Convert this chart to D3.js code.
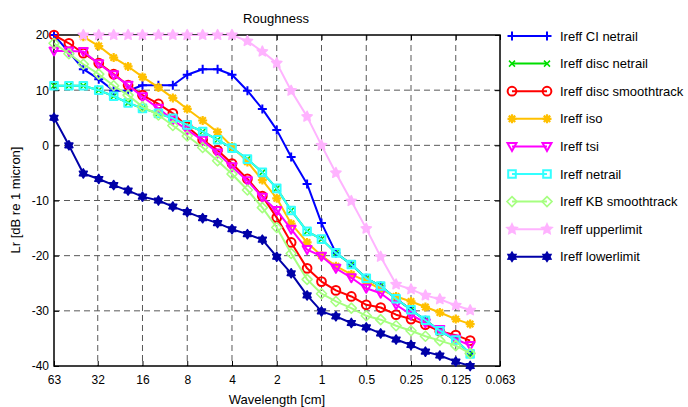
<!DOCTYPE html>
<html>
<head>
<meta charset="utf-8">
<script src="https://cdn.jsdelivr.net/npm/d3@7"></script>
<style>
  html, body { margin: 0; padding: 0; background: #fff; }
  svg { display: block; font-family: Arial, "Liberation Sans", Helvetica, sans-serif; }
</style>
</head>
<body>
<svg id="chart" width="688" height="407"></svg>
<script>
// Third-octave band centre wavelengths [cm]
const wavelengths = [63, 50, 40, 31.5, 25, 20, 16, 12.5, 10, 8, 6.3, 5, 4, 3.15, 2.5, 2, 1.6,
  1.25, 1, 0.8, 0.63, 0.5, 0.4, 0.315, 0.25, 0.2, 0.16, 0.125, 0.1];

const xTicks = [63, 32, 16, 8, 4, 2, 1, 0.5, 0.25, 0.125, 0.063];
const yTicks = [20, 10, 0, -10, -20, -30, -40];

// Roughness levels Lr [dB re 1 micron] per band, listed from 63 cm down to 0.1 cm
const ciNetrail = [20, 16.9, 13.8, 12.0, 9.9, 9.9, 10.9, 10.9, 10.9, 12.8, 13.8, 13.8, 12.8, 9.9,
  6.6, 2.8, -2.1, -7.0, -14.1, -19.5, -21.6, -24.1, -25.5, -27.8, -29.8, -31.7, -33.6, -35.3, -37.8];
const discNetrail = [10.8, 10.8, 10.8, 10.0, 8.9, 7.7, 6.7, 5.8, 4.9, 3.7, 2.5, 1.0, -0.5, -2.5, -4.9,
  -7.8, -11.8, -15.6, -17.0, -19.5, -21.6, -24.1, -25.5, -27.8, -29.8, -31.7, -33.6, -35.3, -37.8];
const discSmoothtrack = [20, 18.5, 16.7, 14.9, 12.9, 10.9, 9.1, 7.5, 5.8, 3.4, 1.0, -0.9, -3.3, -6.1,
  -9.2, -13.1, -17.6, -22.3, -24.7, -26.3, -27.4, -28.9, -29.4, -30.7, -31.5, -32.5, -33.7, -34.4, -35.4];
const iso = [null, null, 19.7, 18.0, 15.9, 14.3, 12.4, 10.5, 8.6, 6.6, 4.5, 2.4, -0.2, -3.0, -6.3,
  -9.6, -14.2, -17.6, -20.0, -21.9, -23.4, -24.6, -26.1, -27.4, -28.3, -29.3, -30.3, -31.5, -32.4];
const tsi = [17.1, 17.1, 17.0, 14.8, 12.8, 10.9, 8.8, 6.7, 4.6, 2.8, 0.9, -1.4, -3.9, -6.4, -9.4,
  -11.8, -15.2, -18.9, -20.1, -22.3, -24.0, -25.9, -26.8, -28.9, -30.7, -32.2, -33.4, -35.1, -36.3];
const netrail = [10.8, 10.8, 10.8, 10.0, 8.9, 7.7, 6.7, 5.8, 4.9, 3.7, 2.5, 1.0, -0.5, -2.5, -4.9,
  -7.8, -11.8, -15.6, -17.0, -19.5, -21.6, -24.1, -25.5, -27.8, -29.8, -31.7, -33.6, -35.3, -37.8];
const kbSmoothtrack = [18.5, 16.6, 14.7, 12.9, 10.8, 9.1, 7.0, 5.5, 3.6, 1.7, -0.4, -2.8, -5.2, -8.1,
  -11.3, -14.9, -19.6, -24.3, -26.9, -28.3, -29.5, -30.9, -31.6, -32.7, -33.6, -34.6, -35.4, -36.3, -37.7];
const upperLimit = [null, null, 20, 20, 20, 20, 20, 20, 20, 20, 20, 20, 20, 18.9, 17.0, 14.9, 9.9,
  5.2, 0, -5.0, -10.1, -15.1, -20.2, -25.2, -26.1, -27.2, -27.9, -29.0, -29.9];
const lowerLimit = [5.0, 0, -5.1, -6.1, -7.2, -8.2, -9.3, -10.0, -11.1, -12.1, -13.2, -14.1, -15.2,
  -16.1, -17.1, -20.2, -23.2, -27.2, -30.1, -31.0, -32.2, -33.0, -34.1, -35.2, -36.2, -37.4, -38.1, -39.2, -40.0];

const seriesNames = ["Ireff CI netrail", "Ireff disc netrail", "Ireff disc smoothtrack", "Ireff iso",
  "Ireff tsi", "Ireff netrail", "Ireff KB smoothtrack", "Ireff upperlimit", "Ireff lowerlimit"];
const seriesValues = [ciNetrail, discNetrail, discSmoothtrack, iso, tsi, netrail, kbSmoothtrack, upperLimit, lowerLimit];
const seriesColors = ["#0000ff", "#00dd00", "#ff0000", "#ffc000", "#ff00ff", "#33ffff", "#a6ff80", "#ffb3ff", "#0000a8"];
const seriesMarkers = ["plus", "x", "circle", "asterisk", "triangleDown", "square", "diamond", "pentagram", "hexagram"];

const svg = d3.select("#chart");
const frame = { left: 54, right: 500, top: 35, bottom: 366 };

const x = d3.scaleLog().domain([63, 0.063]).range([frame.left, frame.right]);
const y = d3.scaleLinear().domain([-40, 20]).range([frame.bottom, frame.top]);

// Marker path builders (centred at 0,0)
function starPath(points, rOuter, rInner) {
  const p = d3.path();
  for (let i = 0; i < points * 2; i++) {
    const r = i % 2 === 0 ? rOuter : rInner;
    const a = -Math.PI / 2 + i * Math.PI / points;
    const px = r * Math.cos(a), py = r * Math.sin(a);
    if (i === 0) p.moveTo(px, py); else p.lineTo(px, py);
  }
  p.closePath();
  return p.toString();
}
const markerDefs = {
  plus: { d: "M-4.5,0H4.5M0,-4.5V4.5", fill: false, w: 2 },
  x: { d: "M-3,-3L3,3M-3,3L3,-3", fill: false, w: 1.5 },
  circle: { d: d3.symbol(d3.symbolCircle, 60)(), fill: false, w: 2 },
  asterisk: { d: "M-4.5,0H4.5M0,-4.5V4.5M-3.2,-3.2L3.2,3.2M-3.2,3.2L3.2,-3.2", fill: false, w: 2.2 },
  triangleDown: { d: "M-4.5,-3.5L4.5,-3.5L0,4.5Z", fill: false, w: 2 },
  square: { d: "M-3.8,-3.8H3.8V3.8H-3.8Z", fill: false, w: 2 },
  diamond: { d: "M0,-5L5,0L0,5L-5,0Z", fill: false, w: 1.6 },
  pentagram: { d: starPath(5, 5.4, 2.6), fill: true, w: 1.5 },
  hexagram: { d: starPath(6, 4.6, 2.8), fill: true, w: 1.5 }
};

// Dashed grid
const grid = svg.append("g").attr("stroke", "#222").attr("stroke-width", 1)
  .attr("stroke-dasharray", "6,4").attr("opacity", 0.75);
xTicks.slice(1, -1).forEach(t => {
  grid.append("line").attr("x1", x(t)).attr("x2", x(t)).attr("y1", frame.top).attr("y2", frame.bottom);
});
yTicks.slice(1, -1).forEach(t => {
  grid.append("line").attr("x1", frame.left).attr("x2", frame.right).attr("y1", y(t)).attr("y2", y(t));
});

// Axes with inward ticks
const xAxis = d3.axisBottom(x).tickValues(xTicks).tickFormat(d => String(d)).tickSizeInner(-5).tickSizeOuter(0).tickPadding(9);
const yAxis = d3.axisLeft(y).tickValues(yTicks).tickFormat(d => String(d)).tickSizeInner(-5).tickSizeOuter(0).tickPadding(5);
const gx = svg.append("g").attr("transform", `translate(0,${frame.bottom})`).call(xAxis);
const gy = svg.append("g").attr("transform", `translate(${frame.left},0)`).call(yAxis);
[gx, gy].forEach(g => {
  g.select(".domain").remove();
  g.selectAll("text").attr("font-size", 12).attr("fill", "#000").attr("font-family", "Arial, 'Liberation Sans', sans-serif");
  g.selectAll("line").attr("stroke", "#000");
});
const tickTop = d3.axisTop(x).tickValues(xTicks).tickSizeInner(-5).tickSizeOuter(0).tickFormat("");
const tickRight = d3.axisRight(y).tickValues(yTicks).tickSizeInner(-5).tickSizeOuter(0).tickFormat("");
const gt = svg.append("g").attr("transform", `translate(0,${frame.top})`).call(tickTop);
const gr = svg.append("g").attr("transform", `translate(${frame.right},0)`).call(tickRight);
[gt, gr].forEach(g => { g.select(".domain").remove(); g.selectAll("line").attr("stroke", "#000"); });

// Axes box
svg.append("rect").attr("x", frame.left).attr("y", frame.top)
  .attr("width", frame.right - frame.left).attr("height", frame.bottom - frame.top)
  .attr("fill", "none").attr("stroke", "#000").attr("stroke-width", 1.5);

// Series lines and markers
svg.append("clipPath").attr("id", "plotClip").append("rect")
  .attr("x", frame.left).attr("y", frame.top)
  .attr("width", frame.right - frame.left).attr("height", frame.bottom - frame.top);

const line = d3.line().defined(d => d.v !== null).x(d => x(d.w)).y(d => y(d.v));

seriesValues.forEach((vals, si) => {
  const pts = vals.map((v, i) => ({ w: wavelengths[i], v: v }));
  const color = seriesColors[si];
  const g = svg.append("g");
  g.append("path").datum(pts).attr("d", line).attr("fill", "none").attr("stroke", color)
    .attr("stroke-width", 2).attr("stroke-linejoin", "round").attr("clip-path", "url(#plotClip)");
  const m = markerDefs[seriesMarkers[si]];
  g.selectAll("path.mk").data(pts.filter(d => d.v !== null)).enter().append("path")
    .attr("class", "mk").attr("d", m.d)
    .attr("transform", d => `translate(${x(d.w)},${y(d.v)})`)
    .attr("fill", m.fill ? color : "none").attr("stroke", color).attr("stroke-width", m.w)
    .attr("stroke-linejoin", "round");
});

// Title and axis labels
svg.append("text").attr("x", 276).attr("y", 23).attr("text-anchor", "middle")
  .attr("font-size", 13).text("Roughness");
svg.append("text").attr("x", 277).attr("y", 404).attr("text-anchor", "middle")
  .attr("font-size", 13).text("Wavelength [cm]");
svg.append("text").attr("transform", "translate(20,200) rotate(-90)").attr("text-anchor", "middle")
  .attr("font-size", 13).text("Lr [dB re 1 micron]");

// Legend
const legend = svg.append("g");
seriesNames.forEach((name, si) => {
  const ly = 36 + si * 27.6;
  const color = seriesColors[si];
  const m = markerDefs[seriesMarkers[si]];
  legend.append("line").attr("x1", 512).attr("x2", 547).attr("y1", ly).attr("y2", ly)
    .attr("stroke", color).attr("stroke-width", 2);
  [512, 547].forEach(lx => {
    legend.append("path").attr("d", m.d).attr("transform", `translate(${lx},${ly})`)
      .attr("fill", m.fill ? color : "none").attr("stroke", color).attr("stroke-width", m.w);
  });
  legend.append("text").attr("x", 560).attr("y", ly).attr("dy", "0.35em")
    .attr("font-size", 13).text(name);
});
</script>
</body>
</html>
